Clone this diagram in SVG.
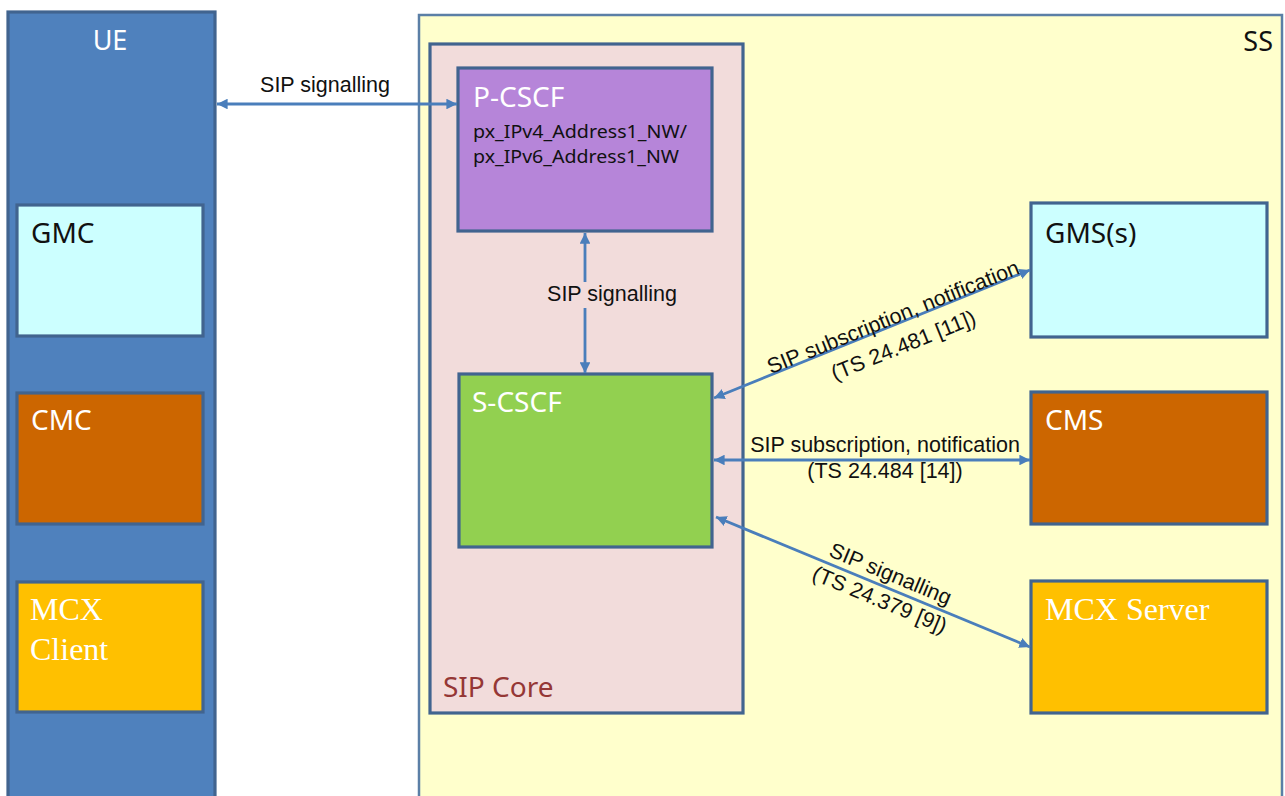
<svg xmlns="http://www.w3.org/2000/svg" width="1285" height="796" viewBox="0 0 1285 796">
<defs>
<style>
.box{stroke:#41648F;stroke-width:3.2}
.lbl{font-family:"Noto Sans","Open Sans",sans-serif;font-size:28px}
.sm{font-size:18.5px}
.m27{font-size:27px}
.m26{font-size:27px}
.w{fill:#FFFFFF}
.k{fill:#111111}
.ser{font-family:"Liberation Serif","Times New Roman",serif;font-size:32px;fill:#FFFFFF}
.al{font-family:"Liberation Sans",Arial,sans-serif;font-size:21.5px;fill:#111111}
.con{stroke:#4A7EBB;stroke-width:2.8;fill:none;marker-start:url(#ah);marker-end:url(#ah)}
</style>
<marker id="ah" viewBox="0 0 10 10" refX="10" refY="5" markerWidth="3.8" markerHeight="3.8" orient="auto-start-reverse" markerUnits="strokeWidth">
<path d="M0,0 L10,5 L0,10 z" fill="#4A7EBB"/>
</marker>
</defs>
<rect x="0" y="0" width="1285" height="796" fill="#FFFFFF"/>

<g id="UE">
<rect class="box" x="8" y="12" width="207" height="800" fill="#4F81BD"/>
<text class="lbl m26 w" x="110" y="50" text-anchor="middle">UE</text>
</g>
<g id="SS">
<rect x="419" y="15" width="863" height="800" fill="#FFFFCC" stroke="#5B7FA6" stroke-width="2.5"/>
<text class="lbl m27 k" x="1273" y="51" text-anchor="end">SS</text>
</g>
<g id="SIPCore">
<rect class="box" x="430" y="44" width="313" height="669" fill="#F2DCDB"/>
<text class="lbl" x="443" y="697" fill="#953735">SIP Core</text>
</g>
<g id="PCSCF">
<rect class="box" x="458" y="68" width="254" height="163" fill="#B685D9"/>
<text class="lbl w" x="473" y="107">P-CSCF</text>
<text class="lbl sm k" x="473" y="138" textLength="214" lengthAdjust="spacingAndGlyphs">px_IPv4_Address1_NW/</text>
<text class="lbl sm k" x="473" y="163" textLength="206" lengthAdjust="spacingAndGlyphs">px_IPv6_Address1_NW</text>
</g>
<g id="SCSCF">
<rect class="box" x="459" y="374" width="253" height="173" fill="#92D050"/>
<text class="lbl w" x="472" y="412">S-CSCF</text>
</g>
<g id="GMC">
<rect class="box" x="17" y="205" width="186" height="131" fill="#CCFFFF"/>
<text class="lbl k" x="31" y="243">GMC</text>
</g>
<g id="CMC">
<rect class="box" x="17" y="393" width="186" height="131" fill="#CC6600"/>
<text class="lbl w" x="31" y="430">CMC</text>
</g>
<g id="MCXClient">
<rect class="box" x="17" y="582" width="186" height="130" fill="#FFC000"/>
<text class="ser" x="30" y="620">MCX</text>
<text class="ser" x="30" y="660">Client</text>
</g>
<g id="GMS">
<rect class="box" x="1031" y="203" width="236" height="134" fill="#CCFFFF"/>
<text class="lbl k" x="1045" y="243">GMS(s)</text>
</g>
<g id="CMS">
<rect class="box" x="1031" y="392" width="236" height="132" fill="#CC6600"/>
<text class="lbl w" x="1045" y="430">CMS</text>
</g>
<g id="MCXServer">
<rect class="box" x="1031" y="581" width="236" height="132" fill="#FFC000"/>
<text class="ser" x="1045" y="620">MCX Server</text>
</g>

<g id="connectors">
<line class="con" x1="217" y1="104" x2="457" y2="104"/>
<text class="al" x="325" y="92" text-anchor="middle">SIP signalling</text>

<line class="con" x1="585" y1="233" x2="585" y2="373"/>
<rect x="545" y="282" width="134" height="26" fill="#F2DCDB"/>
<text class="al" x="612" y="301" text-anchor="middle">SIP signalling</text>

<line class="con" x1="714" y1="398" x2="1030" y2="270"/>
<g transform="translate(898,324) rotate(-22)">
<text class="al" x="-2" y="-1" text-anchor="middle">SIP subscription, notification</text>
<text class="al" x="-3" y="29" text-anchor="middle">(TS 24.481 [11])</text>
</g>

<line class="con" x1="714" y1="460" x2="1030" y2="460"/>
<text class="al" x="885" y="452" text-anchor="middle">SIP subscription, notification</text>
<text class="al" x="885" y="478" text-anchor="middle">(TS 24.484 [14])</text>

<line class="con" x1="716" y1="517" x2="1030" y2="647"/>
<g transform="translate(885,587) rotate(22.5)">
<text class="al" x="0" y="-7" text-anchor="middle">SIP signalling</text>
<text class="al" x="0" y="21" text-anchor="middle">(TS 24.379 [9])</text>
</g>
</g>
</svg>
